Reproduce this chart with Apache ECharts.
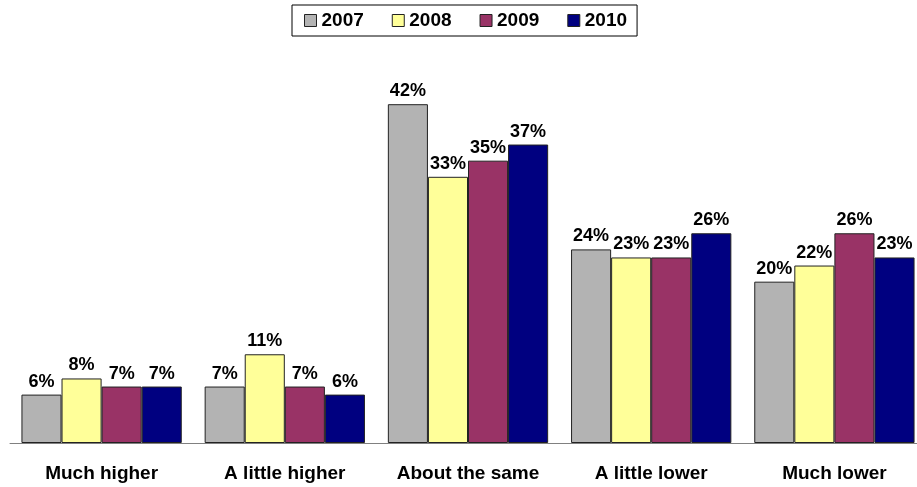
<!DOCTYPE html>
<html>
<head>
<meta charset="utf-8">
<script src="https://cdn.jsdelivr.net/npm/echarts@6/dist/echarts.min.js"></script>
<style>
  html, body { margin: 0; padding: 0; background: #fff; overflow: hidden; }
  #chart { width: 930px; height: 487px; }
</style>
</head>
<body>
<div id="chart"></div>
<script>
const categories = ['Much higher', 'A little higher', 'About the same', 'A little lower', 'Much lower']
const years = ['2007', '2008', '2009', '2010']
const v2007 = [6, 7, 42, 24, 20]
const v2008 = [8, 11, 33, 23, 22]
const v2009 = [7, 7, 35, 23, 26]
const v2010 = [7, 6, 37, 26, 23]

const colors = ['#b3b3b3', '#ffff99', '#993366', '#000080']
const font = 'Arial, "Liberation Sans", sans-serif'

const chart = echarts.init(document.getElementById('chart'))

const makeSeries = (name, data, i) => ({
  name,
  type: 'bar',
  data,
  barGap: '0%',
  barCategoryGap: '12.5%',
  itemStyle: { color: colors[i], borderColor: '#222', borderWidth: 1 },
  label: {
    show: true,
    position: 'top',
    distance: 4,
    formatter: '{c}%',
    color: '#000',
    fontWeight: 'bold',
    fontSize: 18,
    fontFamily: font
  }
})

chart.setOption({
  animation: false,
  color: colors,
  legend: {
    top: 5,
    left: 292,
    itemWidth: 12,
    itemHeight: 12,
    itemGap: 28,
    padding: [6, 10, 6, 12],
    borderColor: '#000',
    borderWidth: 1,
    icon: 'rect',
    itemStyle: { borderColor: '#222', borderWidth: 1 },
    textStyle: { fontWeight: 'bold', fontSize: 19, fontFamily: font, color: '#000' },
    data: years
  },
  grid: { left: 10, right: 4, top: 80, bottom: 44 },
  xAxis: {
    type: 'category',
    data: categories,
    axisLine: { lineStyle: { color: '#808080', width: 1 } },
    axisTick: { show: false },
    axisLabel: {
      interval: 0,
      margin: 21,
      color: '#000',
      fontWeight: 'bold',
      fontSize: 19,
      fontFamily: font
    }
  },
  yAxis: {
    type: 'value',
    min: 0,
    max: 45,
    show: false,
    splitLine: { show: false }
  },
  series: [
    makeSeries(years[0], v2007, 0),
    makeSeries(years[1], v2008, 1),
    makeSeries(years[2], v2009, 2),
    makeSeries(years[3], v2010, 3)
  ]
})
</script>
</body>
</html>
